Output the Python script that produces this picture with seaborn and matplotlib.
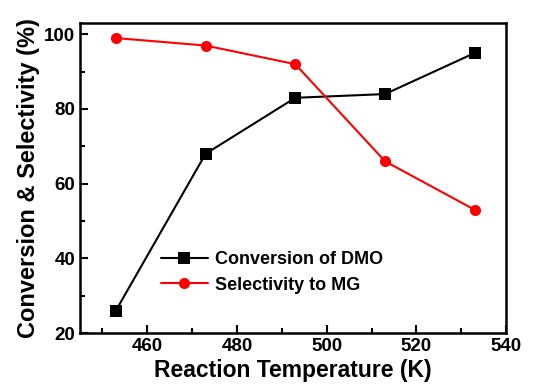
import matplotlib
matplotlib.use("Agg")
import matplotlib.pyplot as plt
import pandas as pd
import seaborn as sns
from matplotlib.ticker import MultipleLocator

sns.set_theme(style="ticks")
plt.rcParams["font.family"] = ["Liberation Sans", "DejaVu Sans"]
plt.rcParams["font.weight"] = "bold"
plt.rcParams["text.color"] = "black"
plt.rcParams["axes.labelcolor"] = "black"
plt.rcParams["xtick.color"] = "black"
plt.rcParams["ytick.color"] = "black"

temperature = [453, 473, 493, 513, 533]
conversion_dmo = [26, 68, 83, 84, 95]
selectivity_mg = [99, 97, 92, 66, 53]
series_names = ["Conversion of DMO", "Selectivity to MG"]

df = pd.DataFrame({
    "temp": temperature * 2,
    "value": conversion_dmo + selectivity_mg,
    "series": [series_names[0]] * len(temperature) + [series_names[1]] * len(temperature),
})

fig = plt.figure(figsize=(5.46, 3.92), dpi=100)
ax = fig.add_axes([0.1465, 0.1505, 0.7805, 0.7905])

sns.lineplot(
    data=df, x="temp", y="value", hue="series", style="series",
    palette=["black", "red"], markers=["s", "o"], dashes=False,
    markersize=8, linewidth=1.5, markeredgewidth=0, ax=ax,
)

ax.set_xlim(445, 540)
ax.set_ylim(20, 103)
ax.xaxis.set_major_locator(MultipleLocator(20))
ax.xaxis.set_minor_locator(MultipleLocator(10))
ax.yaxis.set_major_locator(MultipleLocator(20))
ax.yaxis.set_minor_locator(MultipleLocator(10))
ax.tick_params(which="both", direction="in", top=False, right=False,
               labelsize=13.5, width=1.5, colors="black")
ax.tick_params(which="major", length=6)
ax.tick_params(which="minor", length=3.5)
for spine in ax.spines.values():
    spine.set_linewidth(1.8)
    spine.set_color("black")

ax.set_xlabel("Reaction Temperature (K)", fontsize=16.5, fontweight="bold", labelpad=3)
ax.set_ylabel("Conversion & Selectivity (%)", fontsize=17, fontweight="bold", labelpad=3)

leg = ax.legend(loc="lower left", bbox_to_anchor=(0.151, 0.075), frameon=False,
                fontsize=13, handlelength=2.6, handletextpad=0.4, labelspacing=0.45)
for t in leg.get_texts():
    t.set_color("black")

fig.savefig("out.png", dpi=100)
